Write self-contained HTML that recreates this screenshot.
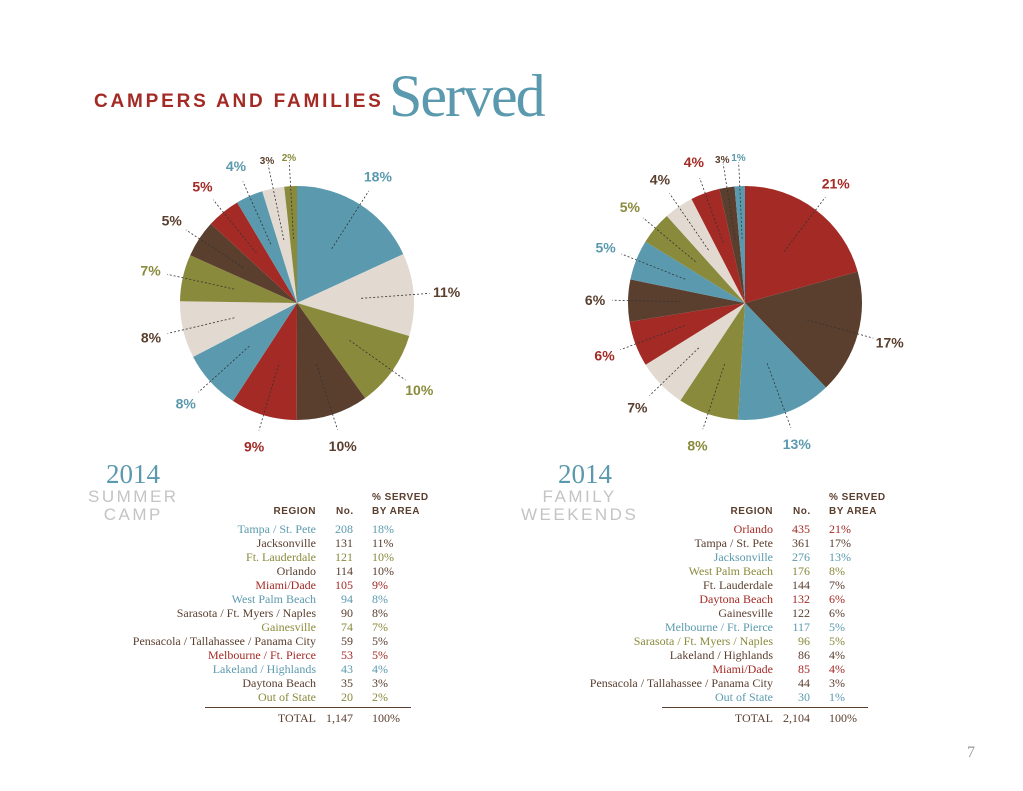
<!DOCTYPE html>
<html><head><meta charset="utf-8">
<style>
body{margin:0;background:#fff;width:1023px;height:791px;overflow:hidden;position:relative;font-family:"Liberation Serif",serif}
.abs{position:absolute;white-space:nowrap}
.title{left:94px;top:91px;font:bold 19px "Liberation Sans",sans-serif;color:#a32a25;letter-spacing:2.8px}
.served{left:389px;top:62px;font:60px "Liberation Serif",serif;color:#5b9aae;letter-spacing:-2px}
.year{font:27px "Liberation Serif",serif;color:#5b9aae}
.sub{font:17px "Liberation Sans",sans-serif;color:#c4c4c4;letter-spacing:2.5px;line-height:18px;text-align:center}
.hdr{font:bold 10px "Liberation Sans",sans-serif;color:#5a3e2e;letter-spacing:0.5px}
.cell{font:12px "Liberation Serif",serif}
</style></head><body>
<div class="abs title">CAMPERS AND FAMILIES</div>
<div class="abs served">Served</div>
<div class="abs year" style="left:106px;top:459px">2014</div>
<div class="abs sub" style="left:88px;top:488px">SUMMER<br>CAMP</div>
<div class="abs year" style="left:558px;top:459px">2014</div>
<div class="abs sub" style="left:521px;top:488px">FAMILY<br>WEEKENDS</div>
<div class="abs" style="left:967px;top:744px;font:16px 'Liberation Serif',serif;color:#999">7</div>
<svg id="svg" width="1023" height="791" style="position:absolute;left:0;top:0"></svg>
<div id="tables"></div>
<script>
const C={b:"#5b9aae",g:"#e2d9d0",o:"#8a8a3c",d:"#5a3e2e",r:"#a32a25"};
const tc={b:"#5b9aae",g:"#5a3e2e",o:"#8a8a3c",d:"#5a3e2e",r:"#a32a25"};
const scRegions=["Tampa / St. Pete","Jacksonville","Ft. Lauderdale","Orlando","Miami/Dade","West Palm Beach","Sarasota / Ft. Myers / Naples","Gainesville","Pensacola / Tallahassee / Panama City","Melbourne / Ft. Pierce","Lakeland / Highlands","Daytona Beach","Out of State"];
const scCounts=[208,131,121,114,105,94,90,74,59,53,43,35,20];
const scPct=[18,11,10,10,9,8,8,7,5,5,4,3,2];
const scColors=["b","g","o","d","r","b","g","o","d","r","b","g","o"];
const fwRegions=["Orlando","Tampa / St. Pete","Jacksonville","West Palm Beach","Ft. Lauderdale","Daytona Beach","Gainesville","Melbourne / Ft. Pierce","Sarasota / Ft. Myers / Naples","Lakeland / Highlands","Miami/Dade","Pensacola / Tallahassee / Panama City","Out of State"];
const fwCounts=[435,361,276,176,144,132,122,117,96,86,85,44,30];
const fwPct=[21,17,13,8,7,6,6,5,5,4,4,3,1];
const fwColors=["r","d","b","o","g","r","d","b","o","g","r","d","b"];
const svg=document.getElementById('svg');const NS="http://www.w3.org/2000/svg";
function mk(t,a){const e=document.createElementNS(NS,t);for(const k in a)e.setAttribute(k,a[k]);svg.appendChild(e);return e;}
function pie(cx,cy,R,counts,pcts,cols,key){
 const tot=counts.reduce((a,b)=>a+b,0);let a0=0;
 counts.forEach((v,i)=>{
  const a1=a0+v/tot*2*Math.PI;
  const p=(a)=>[cx+R*Math.sin(a),cy-R*Math.cos(a)];
  const [x0,y0]=p(a0),[x1,y1]=p(a1);
  const s=mk('path',{d:`M${cx},${cy}L${x0},${y0}A${R},${R} 0 ${a1-a0>Math.PI?1:0} 1 ${x1},${y1}Z`,fill:C[cols[i]]});
  
  
  const m=(a0+a1)/2,sn=Math.sin(m),cs=-Math.cos(m);
  const small=v/tot<0.035;
  const r1=R*0.55,r2=small?R+24:R+16;
  const ln=mk('line',{x1:cx+r1*sn,y1:cy+r1*cs,x2:cx+r2*sn,y2:cy+r2*cs,stroke:"#333","stroke-width":0.8,"stroke-dasharray":"2,2"});
  
  
  const rl=small?R+30:R+33;
  const t=mk('text',{x:cx+rl*sn,y:cy+rl*cs+5,"text-anchor":"middle",fill:tc[cols[i]],"font-family":"Liberation Sans,sans-serif","font-weight":"bold","font-size":small?10:14});
  t.textContent=pcts[i]+'%';
  
  
  a0=a1;
 });
}
pie(297,303,117,scCounts,scPct,scColors,'summer');
pie(745,303,117,fwCounts,fwPct,fwColors,'family');
const T=document.getElementById('tables');
function div(txt,style,name){const d=document.createElement('div');d.className='abs '+(style.c||'cell');d.style.cssText=style.s;d.textContent=txt;
 
 
 T.appendChild(d);return d;}
function table(rx,regions,counts,pcts,cols,total,key){
 div('REGION',{c:'hdr',s:`right:${1023-rx}px;top:506px`},key+'-region-header');
 div('No.',{c:'hdr',s:`left:${rx+20}px;top:506px`},key+'-no-header');
 div('% SERVED',{c:'hdr',s:`left:${rx+56}px;top:492px`},key+'-pct-header');
 div('BY AREA',{c:'hdr',s:`left:${rx+56}px;top:506px`},key+'-pct-header-2');
 regions.forEach((r,i)=>{const y=522+i*14,c=tc[cols[i]];
  div(r,{s:`right:${1023-rx}px;top:${y}px;color:${c}`},key+'-region-'+i);
  div(counts[i],{s:`right:${1023-rx-37}px;top:${y}px;color:${c}`},key+'-count-'+i);
  div(pcts[i]+'%',{s:`left:${rx+56}px;top:${y}px;color:${c}`},key+'-pct-'+i);});
 const l=document.createElement('div');l.className='abs';l.style.cssText=`left:${rx-111}px;top:707px;width:206px;height:1px;background:#5a3e2e`;
 
 
 T.appendChild(l);
 div('TOTAL',{s:`right:${1023-rx}px;top:711px;color:#5a3e2e`},key+'-total-label');
 div(total,{s:`right:${1023-rx-37}px;top:711px;color:#5a3e2e`},key+'-total-count');
 div('100%',{s:`left:${rx+56}px;top:711px;color:#5a3e2e`},key+'-total-pct');
}
table(316,scRegions,scCounts,scPct,scColors,'1,147','summer');
table(773,fwRegions,fwCounts,fwPct,fwColors,'2,104','family');
</script>
</body></html>
